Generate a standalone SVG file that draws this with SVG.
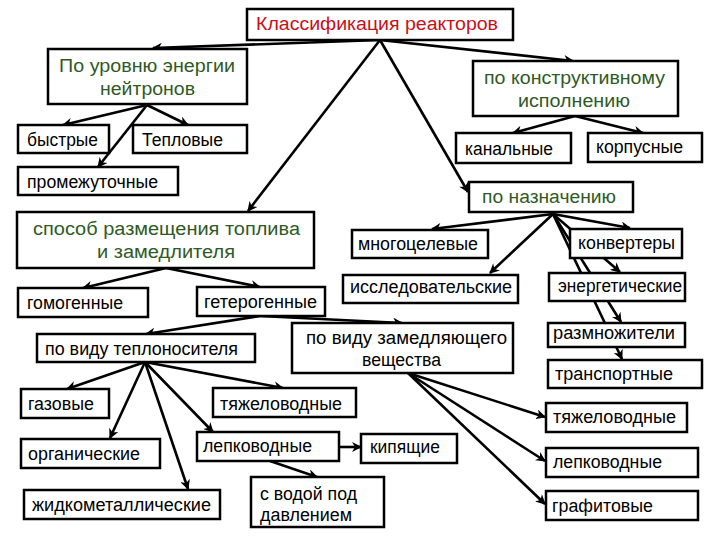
<svg xmlns="http://www.w3.org/2000/svg" width="720" height="540" viewBox="0 0 720 540">
<defs>
<style>
.b{fill:#fff;stroke:#000;stroke-width:2.5}
.t{font-family:"Liberation Sans",Arial,sans-serif;font-size:18px;fill:#000}
.g{fill:#2f5a26}
.r{fill:#c8101a}
.c line{stroke:#000;stroke-width:2.6;marker-end:url(#ah)}
</style>
<marker id="ah" viewBox="0 0 10 10" refX="9" refY="5" markerWidth="11" markerHeight="10" markerUnits="userSpaceOnUse" orient="auto"><path d="M0,0 L10,5 L0,10 L3,5 z" fill="#000"/></marker>
</defs>
<rect width="720" height="540" fill="#fff"/>
<g id="connectors" class="c">
<line x1="380" y1="40" x2="153" y2="48"/>
<line x1="380" y1="40" x2="573" y2="61"/>
<line x1="380" y1="40" x2="468" y2="192"/>
<line x1="380" y1="40" x2="248" y2="211"/>
<line x1="147" y1="105" x2="63" y2="125"/>
<line x1="147" y1="105" x2="188" y2="125"/>
<line x1="147" y1="105" x2="98" y2="167"/>
<line x1="575" y1="116" x2="513" y2="133"/>
<line x1="575" y1="116" x2="643" y2="133"/>
<line x1="553" y1="214" x2="432" y2="229"/>
<line x1="553" y1="214" x2="490" y2="273"/>
<line x1="553" y1="214" x2="630" y2="228"/>
<line x1="553" y1="214" x2="620" y2="272"/>
<line x1="553" y1="214" x2="621" y2="322"/>
<line x1="553" y1="214" x2="622" y2="359"/>
<line x1="166" y1="268" x2="83" y2="288"/>
<line x1="166" y1="268" x2="260" y2="287"/>
<line x1="260" y1="316" x2="146" y2="334"/>
<line x1="260" y1="316" x2="402" y2="323"/>
<line x1="145" y1="362" x2="67" y2="389"/>
<line x1="145" y1="362" x2="110" y2="438"/>
<line x1="145" y1="362" x2="188" y2="489"/>
<line x1="145" y1="362" x2="283" y2="388"/>
<line x1="145" y1="362" x2="213" y2="432"/>
<line x1="339" y1="447" x2="361" y2="447"/>
<line x1="270" y1="461" x2="317" y2="477"/>
<line x1="408" y1="373" x2="545" y2="417"/>
<line x1="408" y1="373" x2="545" y2="461"/>
<line x1="408" y1="373" x2="545" y2="504"/>
</g>
<g id="n-title"><rect class="b" x="247" y="9" width="266" height="31"/><text class="t r" x="256" y="30" textLength="242" lengthAdjust="spacingAndGlyphs">Классификация реакторов</text></g>
<g id="n-energy"><rect class="b" x="48" y="49" width="199" height="55"/><text class="t g" x="59" y="72" textLength="176" lengthAdjust="spacingAndGlyphs">По уровню энергии</text><text class="t g" x="100" y="95" textLength="95" lengthAdjust="spacingAndGlyphs">нейтронов</text></g>
<g id="n-fast"><rect class="b" x="18" y="125" width="91" height="28"/><text class="t" x="27" y="146" textLength="71" lengthAdjust="spacingAndGlyphs">быстрые</text></g>
<g id="n-thermal"><rect class="b" x="133" y="125" width="114" height="28"/><text class="t" x="142" y="146" textLength="81" lengthAdjust="spacingAndGlyphs">Тепловые</text></g>
<g id="n-inter"><rect class="b" x="18" y="167" width="160" height="28"/><text class="t" x="27" y="188" textLength="131" lengthAdjust="spacingAndGlyphs">промежуточные</text></g>
<g id="n-constr"><rect class="b" x="473" y="61" width="205" height="55"/><text class="t g" x="484" y="84" textLength="181" lengthAdjust="spacingAndGlyphs">по конструктивному</text><text class="t g" x="518" y="107" textLength="112" lengthAdjust="spacingAndGlyphs">исполнению</text></g>
<g id="n-channel"><rect class="b" x="456" y="133" width="115" height="30"/><text class="t" x="465" y="155" textLength="88" lengthAdjust="spacingAndGlyphs">канальные</text></g>
<g id="n-vessel"><rect class="b" x="588" y="133" width="114" height="29"/><text class="t" x="596" y="153" textLength="87" lengthAdjust="spacingAndGlyphs">корпусные</text></g>
<g id="n-purpose"><rect class="b" x="469" y="182" width="164" height="30"/><text class="t g" x="482" y="203" textLength="134" lengthAdjust="spacingAndGlyphs">по назначению</text></g>
<g id="n-fuel"><rect class="b" x="17" y="212" width="297" height="56"/><text class="t g" x="33" y="235" textLength="267" lengthAdjust="spacingAndGlyphs">способ размещения топлива</text><text class="t g" x="97" y="258" textLength="138" lengthAdjust="spacingAndGlyphs">и замедлителя</text></g>
<g id="n-homo"><rect class="b" x="18" y="288" width="130" height="29"/><text class="t" x="27" y="309" textLength="96" lengthAdjust="spacingAndGlyphs">гомогенные</text></g>
<g id="n-hetero"><rect class="b" x="197" y="287" width="128" height="29"/><text class="t" x="204" y="308" textLength="113" lengthAdjust="spacingAndGlyphs">гетерогенные</text></g>
<g id="n-coolant"><rect class="b" x="37" y="334" width="218" height="28"/><text class="t" x="45" y="355" textLength="193" lengthAdjust="spacingAndGlyphs">по виду теплоносителя</text></g>
<g id="n-moder"><rect class="b" x="292" y="323" width="221" height="50"/><text class="t" x="306" y="344" textLength="201" lengthAdjust="spacingAndGlyphs">по виду замедляющего</text><text class="t" x="362" y="366" textLength="79" lengthAdjust="spacingAndGlyphs">вещества</text></g>
<g id="n-multi"><rect class="b" x="352" y="230" width="136" height="28"/><text class="t" x="358" y="250" textLength="120" lengthAdjust="spacingAndGlyphs">многоцелевые</text></g>
<g id="n-research"><rect class="b" x="343" y="275" width="175" height="28"/><text class="t" x="350" y="293" textLength="162" lengthAdjust="spacingAndGlyphs">исследовательские</text></g>
<g id="n-conv"><rect class="b" x="570" y="229" width="112" height="29"/><text class="t" x="578" y="249" textLength="97" lengthAdjust="spacingAndGlyphs">конвертеры</text></g>
<g id="n-power"><rect class="b" x="549" y="273" width="136" height="28"/><text class="t" x="558" y="292" textLength="124" lengthAdjust="spacingAndGlyphs">энергетические</text></g>
<g id="n-breed"><rect class="b" x="548" y="323" width="137" height="24"/><text class="t" x="553" y="339" textLength="122" lengthAdjust="spacingAndGlyphs">размножители</text></g>
<g id="n-transp"><rect class="b" x="548" y="360" width="154" height="28"/><text class="t" x="555" y="380" textLength="118" lengthAdjust="spacingAndGlyphs">транспортные</text></g>
<g id="n-heavy-r"><rect class="b" x="546" y="403" width="141" height="29"/><text class="t" x="553" y="423" textLength="123" lengthAdjust="spacingAndGlyphs">тяжеловодные</text></g>
<g id="n-light-r"><rect class="b" x="546" y="448" width="152" height="29"/><text class="t" x="553" y="468" textLength="109" lengthAdjust="spacingAndGlyphs">лепководные</text></g>
<g id="n-graph"><rect class="b" x="546" y="491" width="152" height="29"/><text class="t" x="552" y="512" textLength="101" lengthAdjust="spacingAndGlyphs">графитовые</text></g>
<g id="n-gas"><rect class="b" x="21" y="389" width="88" height="29"/><text class="t" x="28" y="410" textLength="66" lengthAdjust="spacingAndGlyphs">газовые</text></g>
<g id="n-organic"><rect class="b" x="21" y="439" width="139" height="29"/><text class="t" x="28" y="460" textLength="112" lengthAdjust="spacingAndGlyphs">органические</text></g>
<g id="n-metal"><rect class="b" x="24" y="490" width="196" height="29"/><text class="t" x="32" y="511" textLength="179" lengthAdjust="spacingAndGlyphs">жидкометаллические</text></g>
<g id="n-heavy-l"><rect class="b" x="213" y="388" width="143" height="29"/><text class="t" x="220" y="410" textLength="122" lengthAdjust="spacingAndGlyphs">тяжеловодные</text></g>
<g id="n-light-l"><rect class="b" x="197" y="432" width="142" height="29"/><text class="t" x="203" y="452" textLength="109" lengthAdjust="spacingAndGlyphs">лепководные</text></g>
<g id="n-boil"><rect class="b" x="361" y="434" width="96" height="29"/><text class="t" x="370" y="453" textLength="70" lengthAdjust="spacingAndGlyphs">кипящие</text></g>
<g id="n-press"><rect class="b" x="251" y="477" width="133" height="50"/><text class="t" x="260" y="500" textLength="97" lengthAdjust="spacingAndGlyphs">с водой под</text><text class="t" x="260" y="521" textLength="92" lengthAdjust="spacingAndGlyphs">давлением</text></g>
</svg>
